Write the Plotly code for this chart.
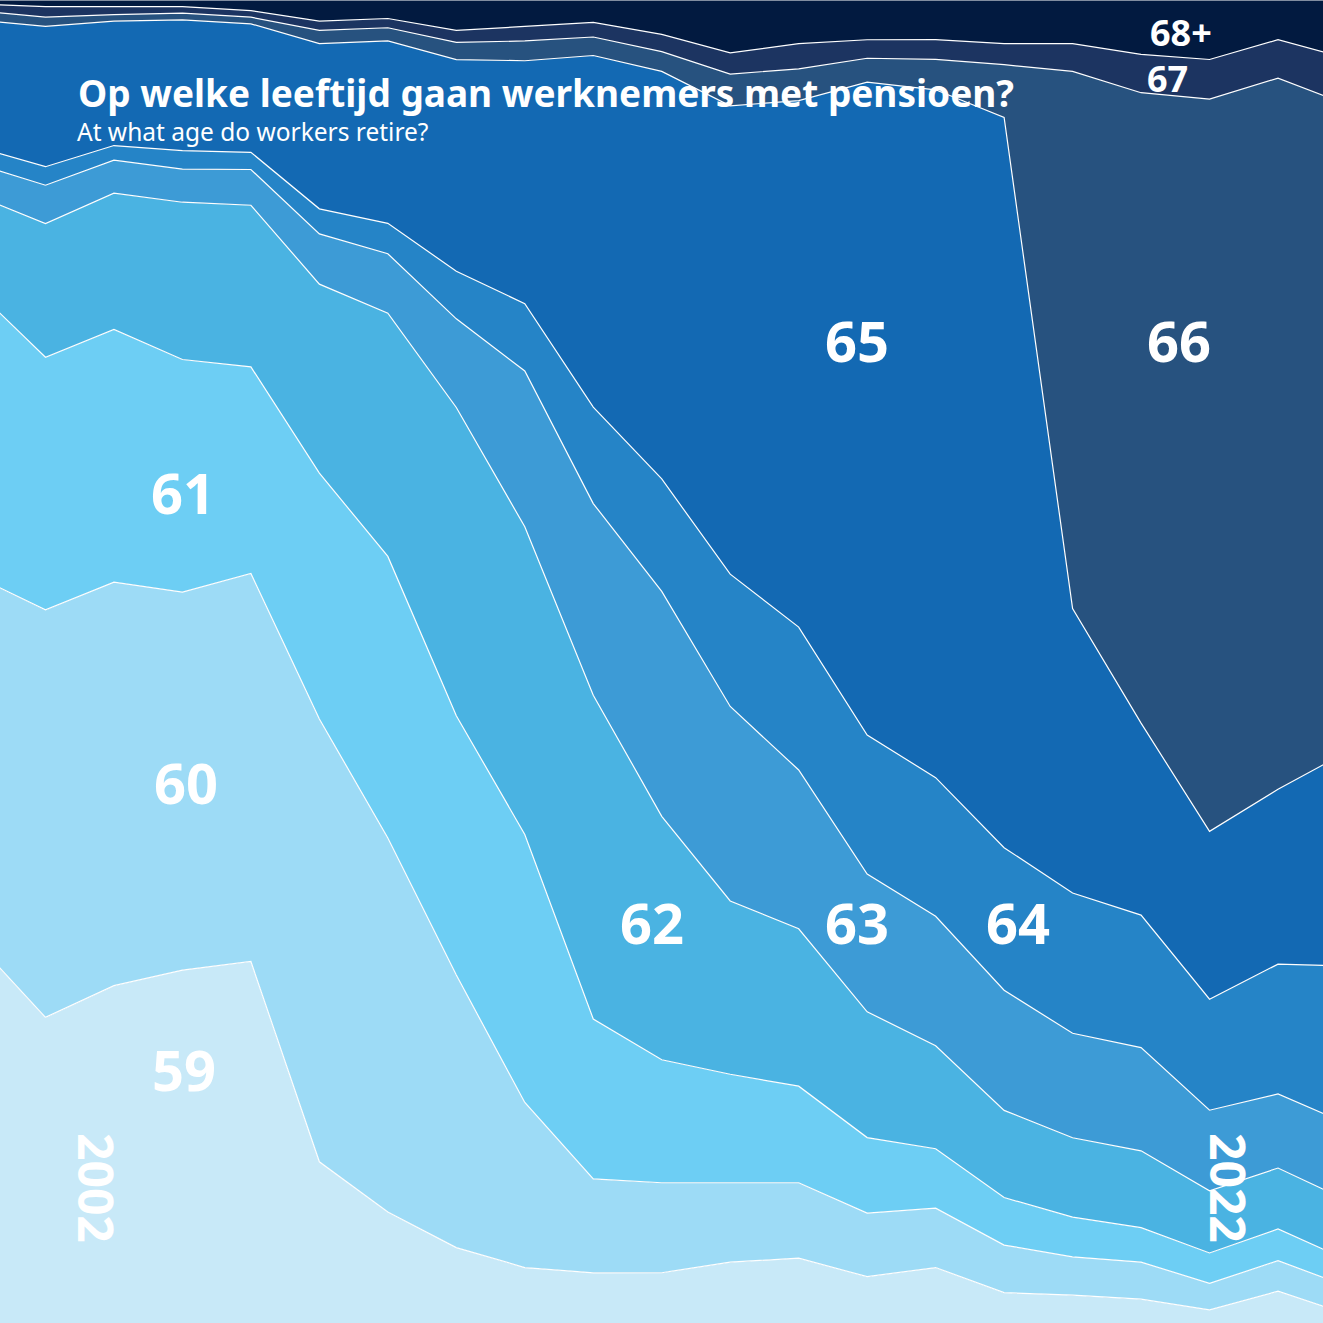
import plotly.graph_objects as go

years = list(range(2002, 2023))

# share of workers per retirement age (percent)
age_59 = [28.7, 23.1, 25.5, 26.7, 27.3, 12.2, 8.4, 5.7, 4.2, 3.8, 3.8, 4.6, 4.9, 3.5, 4.2, 2.3, 2.1, 1.8, 1.0, 2.4, 0.7]
age_60 = [27.7, 30.8, 30.5, 28.6, 29.3, 33.5, 28.3, 20.6, 12.5, 7.1, 6.8, 6.0, 5.7, 4.8, 4.5, 3.6, 2.9, 2.8, 2.0, 2.3, 2.1]
age_61 = [21.6, 19.1, 19.1, 17.6, 15.6, 18.6, 21.3, 19.6, 20.3, 12.1, 9.3, 8.2, 7.3, 5.7, 4.5, 3.6, 3.0, 2.6, 2.3, 2.4, 2.0]
age_62 = [7.2, 10.1, 10.3, 11.9, 12.2, 14.3, 18.4, 23.3, 23.3, 24.5, 18.4, 13.1, 11.9, 9.5, 7.8, 6.6, 6.0, 5.8, 4.7, 4.6, 4.5]
age_63 = [2.4, 2.9, 2.5, 2.5, 2.7, 3.8, 4.5, 6.7, 11.8, 14.5, 17.0, 14.7, 12.0, 10.4, 9.8, 9.1, 7.9, 7.8, 6.1, 5.6, 5.8]
age_64 = [1.3, 1.4, 1.1, 1.4, 1.3, 1.9, 2.3, 3.6, 5.1, 7.3, 8.5, 10.0, 10.8, 10.5, 10.5, 10.8, 10.6, 10.0, 8.4, 9.8, 11.9]
age_65 = [9.6, 10.6, 9.4, 9.9, 9.7, 12.5, 13.8, 16.0, 18.4, 26.6, 30.8, 35.4, 39.8, 49.3, 52.1, 55.3, 21.5, 14.5, 12.7, 13.2, 16.2]
age_66 = [0.7, 0.7, 0.5, 0.5, 0.5, 1.0, 1.0, 1.3, 1.5, 1.4, 1.5, 2.4, 2.4, 1.8, 2.3, 4.0, 40.6, 47.6, 55.4, 53.7, 49.0]
age_67 = [0.5, 0.8, 0.6, 0.5, 0.5, 0.7, 0.7, 0.9, 1.1, 1.1, 1.3, 1.6, 1.9, 1.4, 1.5, 1.6, 2.1, 2.9, 3.0, 2.9, 3.5]
age_68 = [0.3, 0.5, 0.5, 0.5, 0.8, 1.6, 1.4, 2.3, 2.0, 1.7, 2.6, 4.0, 3.3, 3.0, 3.0, 3.3, 3.3, 4.1, 4.5, 3.0, 4.4]

series = [
    ("59", age_59, "#c8e9f8"),
    ("60", age_60, "#9ddbf6"),
    ("61", age_61, "#6dcef4"),
    ("62", age_62, "#4ab3e2"),
    ("63", age_63, "#3d9bd6"),
    ("64", age_64, "#2584c7"),
    ("65", age_65, "#1369b3"),
    ("66", age_66, "#27527f"),
    ("67", age_67, "#1c3461"),
    ("68+", age_68, "#021a40"),
]

fig = go.Figure()
for name, vals, col in series:
    fig.add_trace(go.Scatter(
        x=years, y=vals, name=name,
        mode="lines", stackgroup="one", groupnorm="percent",
        line=dict(color="white", width=1.2),
        fillcolor=col,
        hoverinfo="skip",
    ))

W = H = 1323


def px(x, y):
    return x / W, 1 - y / H


annotations = []


def label(text, x, y, size, angle=0, weight="bold"):
    ax, ay = px(x, y)
    annotations.append(dict(
        text=text, x=ax, y=ay, xref="paper", yref="paper",
        xanchor="center", yanchor="middle", showarrow=False,
        textangle=angle,
        font=dict(family="Noto Sans", size=size, color="white", weight=weight),
    ))


label("65", 857, 340, 56)
label("66", 1179, 340, 56)
label("61", 183, 492, 56)
label("60", 186, 782, 56)
label("59", 184, 1069, 56)
label("62", 652, 922, 56)
label("63", 857, 922, 56)
label("64", 1018, 922, 56)
label("68+", 1181, 33, 36)
label("67", 1167, 78, 36)
label("2002", 97, 1188, 48, angle=90)
label("2022", 1229, 1188, 48, angle=90)

tx, ty = px(76, 92)
annotations.append(dict(
    text="Op welke leeftijd gaan werknemers met pensioen?",
    x=tx, y=ty, xref="paper", yref="paper", xanchor="left", yanchor="middle",
    showarrow=False,
    font=dict(family="Noto Sans", size=37, color="white", weight="bold"),
))
sx, sy = px(75, 132)
annotations.append(dict(
    text="At what age do workers retire?",
    x=sx, y=sy, xref="paper", yref="paper", xanchor="left", yanchor="middle",
    showarrow=False,
    font=dict(family="Noto Sans", size=24.5, color="white"),
))

fig.update_layout(
    width=W, height=H,
    margin=dict(l=0, r=0, t=0, b=0),
    showlegend=False,
    paper_bgcolor="#021a40",
    plot_bgcolor="#021a40",
    xaxis=dict(range=[2002.336, 2021.657], visible=False, showgrid=False),
    yaxis=dict(range=[0, 100], visible=False, showgrid=False),
    annotations=annotations,
)

fig.write_html(
    "out.html",
    config=dict(displayModeBar=False),
    post_script="document.body.style.margin='0px';",
)
